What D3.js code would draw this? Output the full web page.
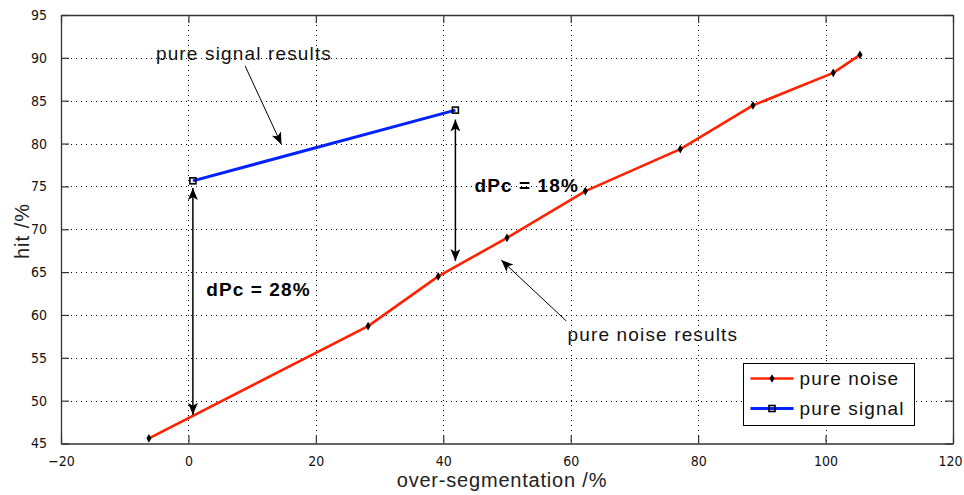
<!DOCTYPE html>
<html>
<head>
<meta charset="utf-8">
<script src="https://cdn.jsdelivr.net/npm/d3@7"></script>
<style>
  html, body { margin: 0; padding: 0; background: #fff; }
  svg { display: block; font-family: "Liberation Sans", Arial, Helvetica, sans-serif; }
</style>
</head>
<body>
<div id="chart"></div>
<script>
// data
const noiseX = [-6.2, 28.2, 39.2, 50.0, 62.3, 77.2, 88.6, 101.2, 105.4];
const noiseY = [45.6, 58.7, 64.5, 69.0, 74.45, 79.35, 84.45, 88.25, 90.35];
const signalX = [0.7, 41.9];
const signalY = [75.65, 83.9];

const xTicks = [-20, 0, 20, 40, 60, 80, 100, 120];
const yTicks = [45, 50, 55, 60, 65, 70, 75, 80, 85, 90, 95];
const legendLabels = ["pure noise", "pure signal"];

// annotations, in data units
const dpcArrows = [
  { x: 0.7, y1: 74.8, y2: 48.35 },
  { x: 41.9, y1: 82.8, y2: 66.3 }
];
const dpcLabels = [
  { x: 2.8, y: 62.2, text: "dPc = 28%" },
  { x: 44.9, y: 74.35, text: "dPc = 18%" }
];
const noteLabels = [
  { x: -5.1, y: 89.75, text: "pure signal results", x1: 8.9, y1: 89.05, x2: 14.6, y2: 79.9 },
  { x: 59.5, y: 57.0, text: "pure noise results", x1: 59.3, y1: 59.3, x2: 49.1, y2: 66.4 }
];

const width = 964, height = 495;
const plot = { left: 61, right: 953, top: 15, bottom: 443.5 };

const svg = d3.select("#chart").append("svg")
  .attr("width", width)
  .attr("height", height);

const x = d3.scaleLinear().domain([-20, 120]).range([plot.left, plot.right]);
const y = d3.scaleLinear().domain([45, 95]).range([plot.bottom, plot.top]);

// arrowheads
const defs = svg.append("defs");
defs.append("marker")
  .attr("id", "head")
  .attr("viewBox", "0 0 12 10")
  .attr("refX", 12).attr("refY", 5)
  .attr("markerUnits", "userSpaceOnUse")
  .attr("markerWidth", 12).attr("markerHeight", 10)
  .attr("orient", "auto-start-reverse")
  .append("path")
  .attr("d", "M0,0 L12,5 L0,10 L3,5 Z")
  .attr("fill", "#000");

// grid (dotted)
const grid = svg.append("g").attr("class", "grid")
  .attr("stroke", "#000").attr("stroke-width", 1).attr("stroke-dasharray", "1,4");
grid.selectAll("line.gx")
  .data(xTicks.slice(1, -1))
  .join("line").attr("class", "gx")
  .attr("x1", d => Math.round(x(d)) + 0.5).attr("x2", d => Math.round(x(d)) + 0.5)
  .attr("y1", plot.top).attr("y2", plot.bottom);
grid.selectAll("line.gy")
  .data(yTicks.slice(1, -1))
  .join("line").attr("class", "gy")
  .attr("y1", d => Math.round(y(d)) + 0.5).attr("y2", d => Math.round(y(d)) + 0.5)
  .attr("x1", plot.left).attr("x2", plot.right);

// axes with inward ticks on all four sides
const tickLen = 8;
const fmt = d3.format("d");
const axB = svg.append("g").attr("transform", `translate(0,${plot.bottom})`)
  .call(d3.axisBottom(x).tickValues(xTicks).tickFormat(fmt).tickSizeInner(-tickLen).tickSizeOuter(0).tickPadding(tickLen + 5));
const axL = svg.append("g").attr("transform", `translate(${plot.left},0)`)
  .call(d3.axisLeft(y).tickValues(yTicks).tickFormat(fmt).tickSizeInner(-tickLen).tickSizeOuter(0).tickPadding(tickLen + 6));
const axT = svg.append("g").attr("transform", `translate(0,${plot.top})`)
  .call(d3.axisTop(x).tickValues(xTicks).tickFormat("").tickSizeInner(-tickLen).tickSizeOuter(0));
const axR = svg.append("g").attr("transform", `translate(${plot.right},0)`)
  .call(d3.axisRight(y).tickValues(yTicks).tickFormat("").tickSizeInner(-tickLen).tickSizeOuter(0));

[axB, axL, axT, axR].forEach(a => {
  a.select(".domain").attr("stroke", "#333").attr("stroke-width", 1.3);
  a.selectAll(".tick line").attr("stroke", "#333").attr("stroke-width", 1.2);
  a.selectAll(".tick text")
    .attr("font-size", 14)
    .attr("font-family", "'Liberation Sans Narrow', 'DejaVu Sans Condensed', 'Liberation Sans', Arial, sans-serif")
    .attr("fill", "#111");
});
// keep the last x label inside the window
axB.selectAll(".tick text").filter(d => d === 120)
  .attr("text-anchor", "end").attr("x", 962 - x(120));

// axis titles
svg.append("text")
  .attr("x", 502).attr("y", 487)
  .attr("text-anchor", "middle")
  .attr("font-size", 20).attr("letter-spacing", 0.8).attr("fill", "#222")
  .text("over-segmentation /%");
svg.append("text")
  .attr("transform", `translate(29,231) rotate(-90)`)
  .attr("text-anchor", "middle")
  .attr("font-size", 20).attr("letter-spacing", 1).attr("fill", "#222")
  .text("hit /%");

// series
const line = d3.line().x(d => x(d[0])).y(d => y(d[1]));
const noise = d3.zip(noiseX, noiseY);
const signal = d3.zip(signalX, signalY);

svg.append("path").datum(noise)
  .attr("d", line).attr("fill", "none")
  .attr("stroke", "#ff2200").attr("stroke-width", 2.6).attr("stroke-linejoin", "round");
svg.append("path").datum(signal)
  .attr("d", line).attr("fill", "none")
  .attr("stroke", "#0022ff").attr("stroke-width", 3);

const diamond = d3.symbol().type(d3.symbolDiamond).size(22);
svg.append("g").selectAll("path")
  .data(noise).join("path")
  .attr("transform", d => `translate(${x(d[0])},${y(d[1])})`)
  .attr("d", diamond).attr("fill", "#000");

svg.append("g").selectAll("rect")
  .data(signal).join("rect")
  .attr("x", d => x(d[0]) - 3).attr("y", d => y(d[1]) - 3)
  .attr("width", 6).attr("height", 6)
  .attr("fill", "none").attr("stroke", "#000").attr("stroke-width", 1.6);

// dPc double arrows
svg.append("g").selectAll("line")
  .data(dpcArrows).join("line")
  .attr("x1", d => x(d.x)).attr("x2", d => x(d.x))
  .attr("y1", d => y(d.y1)).attr("y2", d => y(d.y2))
  .attr("stroke", "#000").attr("stroke-width", 1.5)
  .attr("marker-start", "url(#head)").attr("marker-end", "url(#head)");

svg.append("g").selectAll("text")
  .data(dpcLabels).join("text")
  .attr("x", d => x(d.x)).attr("y", d => y(d.y))
  .attr("font-size", 19).attr("font-weight", "bold").attr("letter-spacing", 1.1).attr("fill", "#000")
  .text(d => d.text);

// text notes with pointer arrows
svg.append("g").selectAll("line")
  .data(noteLabels).join("line")
  .attr("x1", d => x(d.x1)).attr("y1", d => y(d.y1))
  .attr("x2", d => x(d.x2)).attr("y2", d => y(d.y2))
  .attr("stroke", "#000").attr("stroke-width", 1)
  .attr("marker-end", "url(#head)");

svg.append("g").selectAll("text")
  .data(noteLabels).join("text")
  .attr("x", d => x(d.x)).attr("y", d => y(d.y))
  .attr("font-size", 19).attr("letter-spacing", 1.15).attr("fill", "#111")
  .text(d => d.text);

// legend
const legend = svg.append("g").attr("transform", "translate(743.5,363.5)");
legend.append("rect")
  .attr("width", 171).attr("height", 62)
  .attr("fill", "#fff").attr("stroke", "#000").attr("stroke-width", 1);
const colors = ["#ff2200", "#0022ff"];
legendLabels.forEach((lab, i) => {
  const ly = 15 + i * 30;
  legend.append("line")
    .attr("x1", 7).attr("x2", 50).attr("y1", ly).attr("y2", ly)
    .attr("stroke", colors[i]).attr("stroke-width", i ? 3 : 2.6);
  if (i === 0) {
    legend.append("path").attr("transform", `translate(28.5,${ly})`)
      .attr("d", diamond).attr("fill", "#000");
  } else {
    legend.append("rect").attr("x", 25.5).attr("y", ly - 3).attr("width", 6).attr("height", 6)
      .attr("fill", "none").attr("stroke", "#000").attr("stroke-width", 1.6);
  }
  legend.append("text")
    .attr("x", 56).attr("y", ly + 6.5)
    .attr("font-size", 19).attr("letter-spacing", 1.1).attr("fill", "#111")
    .text(lab);
});
</script>
</body>
</html>
